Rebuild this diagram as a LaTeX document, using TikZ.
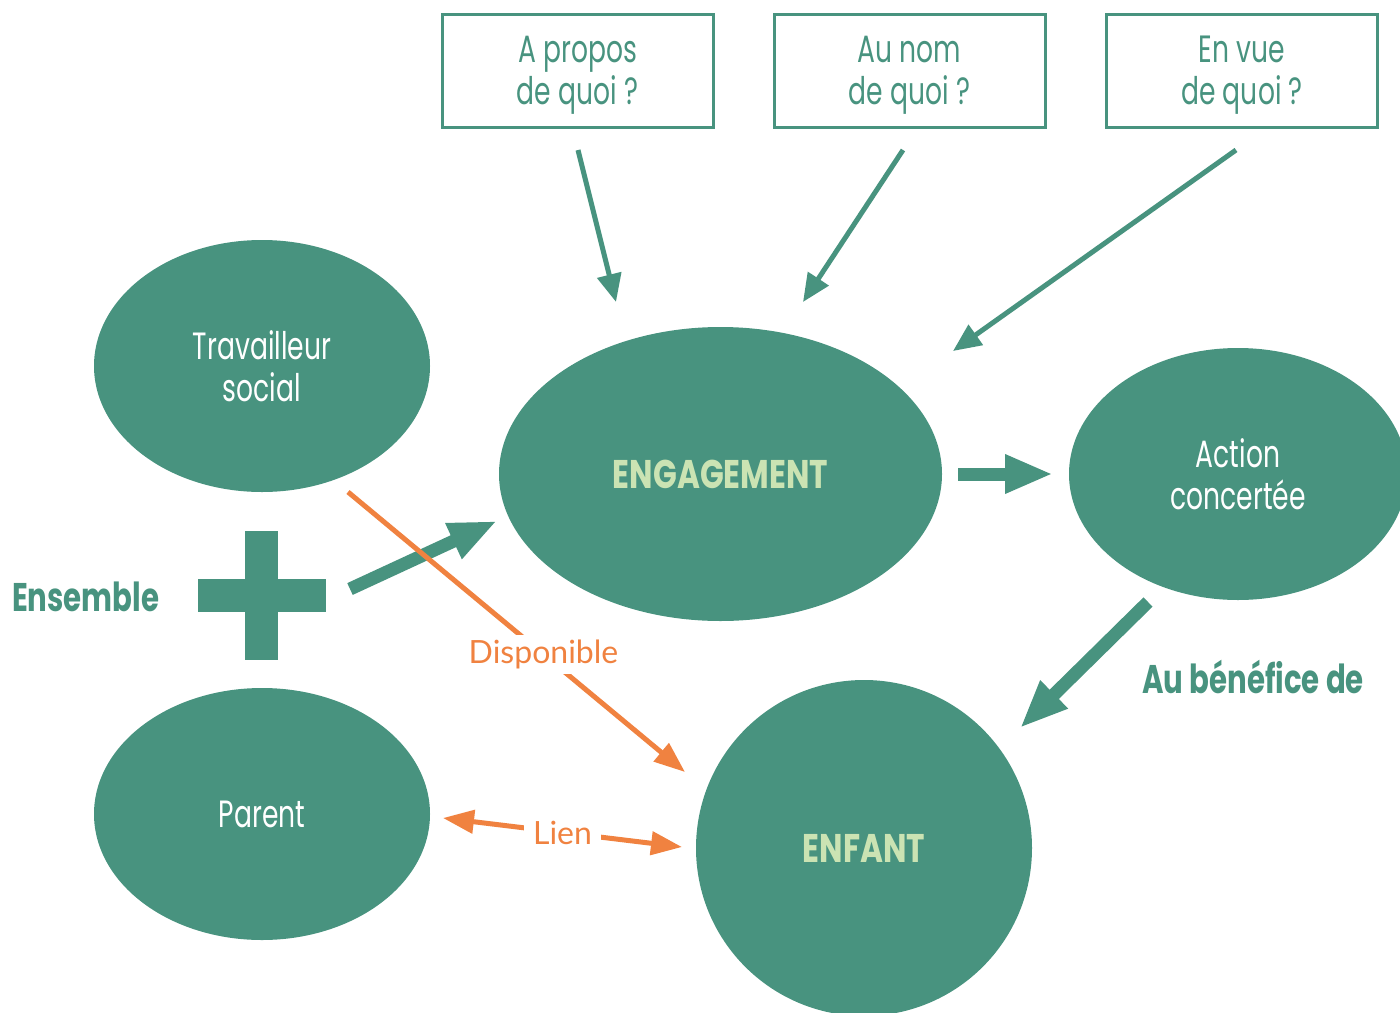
\documentclass[tikz,border=0pt]{standalone}
\usepackage{fontspec}
\usetikzlibrary{shapes.geometric,arrows.meta}
\newfontfamily\condfont[FakeStretch=0.7]{Poppins}
\newfontfamily\keyfont[FakeStretch=0.78]{Poppins}
\newfontfamily\tagfont[FakeStretch=0.73]{Poppins}
\newfontfamily\labelfont{Lato}
\definecolor{sage}{RGB}{72,147,127}
\definecolor{mint}{RGB}{203,227,179}
\definecolor{ember}{RGB}{240,130,64}
\tikzset{
  blob/.style={ellipse, fill=sage, inner sep=0pt, text=white, align=center,
    font=\condfont\fontsize{38}{42}\selectfont},
  keyword/.style={text=mint, font=\keyfont\bfseries\fontsize{40}{44}\selectfont},
  qbox/.style={draw=sage, line width=3pt, minimum width=271pt, minimum height=113pt,
    inner sep=0pt},
  qtext/.style={text=sage, align=center, inner sep=0pt,
    font=\condfont\fontsize{38}{42}\selectfont},
  greentag/.style={text=sage, inner sep=0pt, font=\tagfont\bfseries\fontsize{40}{44}\selectfont},
  thinarrow/.style={draw=sage, line width=5pt, -{Triangle[length=28pt,width=24pt]}},
  thickarrow/.style={draw=sage, line width=13pt, -{Triangle[length=48pt,width=36pt]}},
  orangeline/.style={draw=ember, line width=5pt},
  orangetip/.tip={Triangle[length=31pt,width=23pt]},
  orangelabel/.style={fill=white, text=ember, font=\labelfont\fontsize{32}{36}\selectfont}
}
\begin{document}
\begin{tikzpicture}[x=1pt,y=-1pt]
\useasboundingbox (0,0) rectangle (1400,1012);
\clip (0,0) rectangle (1400,1012);

% question boxes
\node[qbox] (q1) at (577.5,70.5) {};
\node[qbox] (q2) at (909.5,70.5) {};
\node[qbox] (q3) at (1242,70.5) {};
\node[qtext] (q1t) at ([yshift=-5pt]q1.center) {A propos\\de quoi ?};
\node[qtext] (q2t) at ([yshift=-5pt]q2.center) {Au nom\\de quoi ?};
\node[qtext] (q3t) at ([yshift=-5pt]q3.center) {En vue\\de quoi ?};

% main bubbles
\node[blob, minimum width=336pt, minimum height=252pt] (ts) at (262,366) {Travailleur\\social};
\node[blob, minimum width=443pt, minimum height=294pt] (eng) at (720.5,474) {};
\node[keyword] (engt) at (eng.center) {ENGAGEMENT};
\node[blob, minimum width=338pt, minimum height=252pt] (act) at (1238,474) {Action\\concertée};
\node[blob, minimum width=336pt, minimum height=252pt] (par) at (262,814) {Parent};
\node[circle, fill=sage, inner sep=0pt, minimum size=336pt] (enf) at (864,848) {};
\node[keyword] (enft) at (enf.center) {ENFANT};

% plus sign
\fill[sage] (245,531) rectangle (278,660);
\fill[sage] (198,579) rectangle (326,612);

% side labels
\node[greentag, anchor=west] (ens) at (12,597) {Ensemble};
\node[greentag, anchor=west] (ben) at (1142,677) {Au bénéfice de};

% arrow end points
\coordinate (q1s) at (578,150);   \coordinate (q1e) at (616,302);
\coordinate (q2s) at (903,150);   \coordinate (q2e) at (803,302);
\coordinate (q3s) at (1236,150);  \coordinate (q3e) at (953,351);
\coordinate (pls) at (350,589);   \coordinate (ple) at (497,521);
\coordinate (engs) at (958,474);  \coordinate (enge) at (1053,474);
\coordinate (acts) at (1148,602); \coordinate (acte) at (1020,728);
\coordinate (tss) at (348,492);   \coordinate (tse) at (685,772);
\coordinate (lna) at (443,818);   \coordinate (lnb) at (682,847);

% questions lead to the commitment
\draw[thinarrow] (q1s) -- (q1e);
\draw[thinarrow] (q2s) -- (q2e);
\draw[thinarrow] (q3s) -- (q3e);

% main flow
\draw[thickarrow] (pls) -- (ple);
\draw[thickarrow] (engs) -- (enge);
\draw[thickarrow] (acts) -- (acte);

% relations
\draw[orangeline, -{orangetip}] (tss) -- node[orangelabel, pos=0.58, inner xsep=3pt, inner ysep=5pt] {Disponible} (tse);
\draw[orangeline, {orangetip}-{orangetip}] (lna) -- node[orangelabel, inner xsep=9pt, inner ysep=3pt] {Lien} (lnb);
\end{tikzpicture}
\end{document}
